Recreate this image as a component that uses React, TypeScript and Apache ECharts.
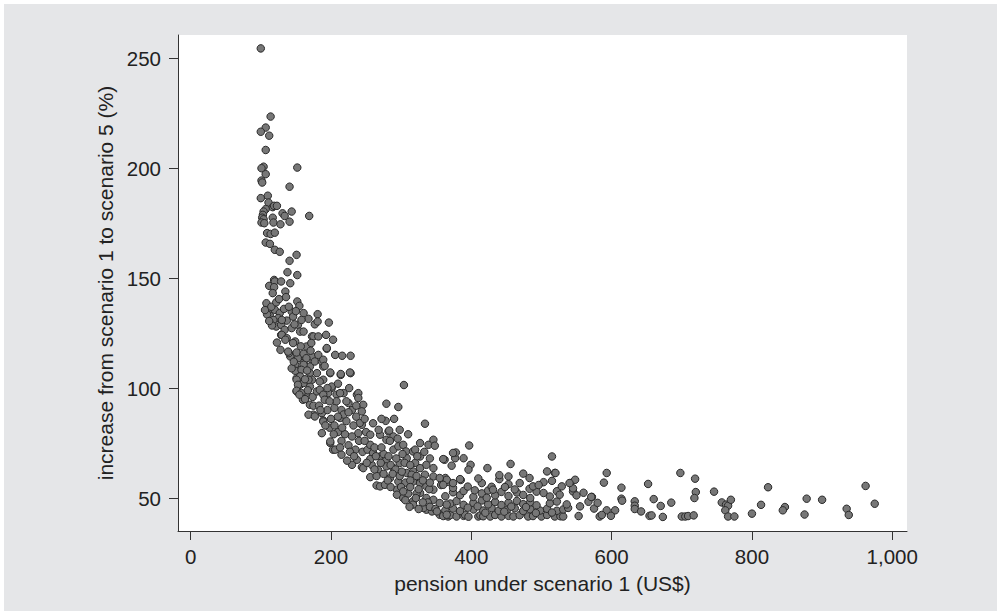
import React, { useEffect, useRef } from "react";
import * as echarts from "echarts";

const xTicks = [0, 200, 400, 600, 800, 1000];
const yTicks = [50, 100, 150, 200, 250];
const xTitle = "pension under scenario 1 (US$)";
const yTitle = "increase from scenario 1 to scenario 5 (%)";

// [pension under scenario 1 (US$), increase (%)]
const steepPart: [number, number][] = [
  [100, 254.5], [114, 223.5], [107, 218.5], [100, 216.6], [112, 214.8], [107, 208.3], [104, 200.7], [101, 200],
  [107, 197.3], [101, 194.4], [102, 193.5], [110, 187.5], [100, 186.4], [111, 184.4], [117, 182.3], [119, 182.9],
  [107, 181.4], [104, 180.3], [103, 178.8], [102, 177.5], [117, 177.5], [104, 176.8], [101, 175.3], [105, 175],
  [118, 175.3], [123, 182.9], [128, 174.5], [109, 170.5], [114, 170.1], [120, 170.7], [107, 166.2], [113, 165.6],
  [120, 162.9], [127, 162], [119, 149.2], [112, 146.5], [120, 148.5], [119, 145.9], [117, 143.2], [108, 138.6],
  [110, 134.8], [113, 132.9], [120, 135.6], [127, 134.1], [125, 131.8], [109, 133.5], [106, 135.5], [115, 137],
  [118, 131], [122, 128], [123, 120.7], [128, 117.4], [129, 128.8], [129, 124.2], [129, 148.5], [122, 139],
  [126, 140.5], [116, 128.5], [112, 130.5],
  [131, 179.5], [134, 178.3], [144, 180.3], [141, 175.7], [141, 191.6], [152, 200.3], [169, 178.3], [151, 160.6],
  [141, 157.9], [138, 152.7], [152, 151.4], [142, 147.7], [135, 143.9], [136, 141.4], [152, 139.4], [155, 137.4],
  [161, 134.1], [168, 131.5], [137, 130.7], [144, 134.8], [146, 132.5], [134, 126.5], [144, 127.3], [153, 128.8],
  [156, 125.7], [130, 124.2], [137, 122.7], [149, 121.2], [173, 123.5], [165, 118.9], [142, 114.4], [153, 113.6],
  [163, 113.6], [173, 112.9], [140, 115.9], [151, 116.2], [161, 111.4], [170, 109.8], [149, 110.6], [156, 108.3],
  [170, 106.8], [173, 103.8], [156, 101.5], [170, 100.7], [151, 104.5], [161, 102.3], [151, 98.5], [165, 97.7],
  [135, 122], [146, 120.5], [161, 125.7], [175, 123.5], [172, 120.5], [139, 116.6], [161, 115.6], [173, 114.4],
  [165, 113.6], [177, 112.1], [161, 110.6], [149, 107.9], [158, 108.3], [156, 105.3], [168, 103.8], [151, 103.8],
  [153, 101.5], [151, 98.8], [158, 97.7], [160, 94.7], [170, 92.4], [175, 92], [175, 87.9], [168, 87.9],
  [177, 87.1], [144, 109], [147, 112], [133, 136], [140, 137], [130, 131], [163, 104], [166, 108], [157, 119],
  [177, 129], [163, 95], [167, 99], [174, 96], [155, 97], [171, 117], [158, 131], [148, 129], [150, 135],
];

const bendPart: [number, number][] = [
  [181, 133.6], [181, 130.3], [197, 129.8], [193, 124.2], [203, 122], [182, 123.5], [194, 117.9], [206, 115.1],
  [216, 114.7], [228, 114.7], [228, 106.8], [214, 106], [199, 106.8], [189, 109.8], [180, 106.8], [189, 103.8],
  [201, 100], [218, 97.7], [237, 97], [239, 97.7], [180, 98.5], [184, 103], [184, 99.2], [196, 97.7],
  [208, 97], [187, 112.1], [182, 115.1], [194, 118.2], [189, 112.9], [191, 110.1], [199, 107.1], [214, 106.4],
  [227, 107.1], [189, 97], [201, 100.7], [213, 97.7], [239, 95.5], [191, 94.7], [225, 93.2], [246, 92.4],
  [244, 89.4], [187, 88.6], [189, 85.3], [213, 86.4], [244, 83.3], [187, 79.5], [189, 84.8], [241, 84.1],
  [239, 79.5], [199, 75], [203, 72], [237, 67.4], [230, 65.1], [244, 64.1], [199, 75.7], [206, 72],
  [215, 69.7], [183, 92], [195, 90], [205, 91], [215, 90], [230, 90], [200, 86], [222, 85],
  [232, 83], [198, 82], [210, 80], [220, 79], [230, 78], [215, 76], [225, 74], [235, 72],
  [245, 71], [240, 76], [218, 88], [208, 94], [195, 100], [226, 100], [210, 102], [198, 94],
  [185, 90], [192, 83], [248, 86], [227, 71], [205, 83], [216, 82], [236, 87], [222, 94], [250, 80],
  [256, 78.8], [270, 78.8], [282, 80.3], [289, 78], [279, 76.5], [279, 92.9], [296, 91.4], [278, 85.1],
  [283, 80.7], [304, 101.4], [334, 83.8], [252, 72], [260, 70.5], [270, 68.9], [279, 67.4], [289, 72],
  [296, 73.5], [303, 74.2], [307, 71.2], [317, 71.2], [327, 75], [339, 74.2], [346, 76.5], [258, 65.1],
  [267, 62.9], [279, 64.4], [289, 63.6], [298, 65.9], [308, 68.1], [327, 68.9], [308, 61.4], [317, 62.1],
  [327, 63.6], [336, 65.1], [346, 63.6], [334, 60.6], [346, 59.8], [317, 57.5], [327, 56.8], [336, 55.3],
  [346, 53.8], [296, 57.5], [327, 52.3], [336, 50], [346, 49.2], [336, 44.7], [256, 59.5], [265, 55.7],
  [270, 55.3], [277, 56], [294, 53.8], [294, 51.5], [303, 50], [317, 48.5], [317, 47], [332, 45.5],
  [344, 43.9], [246, 63.6], [256, 67.7], [256, 74.2], [348, 73.8], [315, 60.6], [262, 73], [275, 70],
  [285, 65], [292, 63], [305, 66], [320, 66], [265, 60], [275, 61], [284, 59], [298, 60],
  [306, 57], [285, 55], [300, 55], [310, 52], [322, 52], [340, 54], [312, 46], [325, 45],
  [338, 48], [268, 81], [272, 86], [298, 81], [310, 79], [260, 84], [290, 86], [320, 72], [264, 69],
  [281, 58], [288, 61], [301, 62], [313, 58], [322, 60], [331, 58], [341, 57], [303, 53], [313, 55],
  [325, 54], [331, 48], [341, 46], [321, 50], [306, 49], [349, 45], [251, 66], [262, 63], [271, 66],
  [282, 69], [293, 68], [302, 70], [313, 65], [323, 69], [333, 71], [341, 68], [272, 73], [284, 76],
  [295, 77], [248, 76], [233, 69], [223, 67], [213, 73], [204, 79], [210, 87], [225, 89], [236, 92],
];

const floorPart: [number, number][] = [
  [355, 42.4], [360, 41.8], [367, 41.6], [370, 42.2], [379, 41.6], [389, 41.9], [391, 42.4], [396, 41.5],
  [410, 41.6], [413, 42.1], [417, 41.7], [427, 41.6], [434, 42.3], [443, 41.6], [453, 41.9], [460, 41.6],
  [469, 42.2], [481, 41.6], [488, 41.8], [500, 41.6], [508, 42.3], [519, 41.6], [527, 41.7], [531, 41.6], [553, 41.8],
  [363, 44.4], [374, 45.2], [384, 44.1], [403, 44.8], [417, 44.3], [429, 45.4], [439, 44.2], [451, 44.7],
  [462, 45.3], [474, 44.1], [484, 44.9], [498, 44.3], [508, 45.1], [522, 44.2], [531, 44.8], [538, 45.5],
  [370, 47.5], [379, 48.6], [389, 46.9], [403, 47.8], [415, 48.9], [424, 47.1], [434, 48.2], [443, 46.8],
  [453, 47.9], [465, 48.7], [474, 47.2], [484, 48.1], [493, 46.7], [512, 47.6], [522, 48.4], [536, 47.1],
  [555, 46.2], [567, 48.3],
  [363, 50.8], [374, 52.6], [384, 51.3], [389, 53.2], [403, 50.5], [415, 52.1], [424, 53.4], [434, 51.2],
  [443, 52.8], [453, 50.9], [465, 52.5], [474, 51.4], [484, 50], [493, 52.9], [503, 52.3], [512, 50.7],
  [522, 53.1], [526, 51.5], [545, 53], [550, 51.2], [560, 52.4], [572, 50.5],
  [357, 55.9], [367, 57.3], [374, 54.6], [385, 58.2], [405, 53.5], [415, 56.8], [429, 55.1], [431, 53.8],
  [440, 58.6], [453, 56.3], [469, 56.8], [483, 54.2], [488, 55.3], [503, 57.2], [529, 55.3], [541, 56.8],
  [545, 54.4], [548, 58.3],
  [363, 59.1], [384, 58.6], [440, 60.4], [453, 59.8], [474, 61.1], [483, 59.1], [508, 62.1], [519, 61.4],
  [362, 67.4], [377, 68.1], [389, 68.1], [399, 65.1], [396, 62.9], [423, 63.6], [456, 65.5], [515, 68.9],
  [397, 73.9], [378, 70.7], [372, 64.7], [360, 67.7], [374, 70.5], [365, 58.3], [374, 56.8], [355, 59.1],
  [351, 43.9], [365, 42.4], [355, 47.7], [365, 47], [360, 56],
  [395, 45.6], [409, 46.2], [420, 43.3], [447, 43.8], [457, 46.1], [478, 45.9], [492, 43.2], [515, 43.4],
  [395, 55.2], [410, 58.9], [422, 50.1], [448, 55], [462, 53.9], [496, 55.9], [515, 57.8],
];

const tailPart: [number, number][] = [
  [593, 61.4], [589, 57], [614, 54.7], [614, 49.7], [615, 48.8], [593, 44.4], [605, 44.4], [599, 41.9],
  [583, 41.6], [586, 42.3], [652, 56.4], [633, 48.5], [633, 46.5], [633, 45], [642, 43.9], [654, 41.9],
  [657, 42.1], [660, 49.5], [670, 46.4], [673, 41.4], [685, 47.9], [698, 61.4], [700, 41.6], [705, 41.6],
  [709, 41.8], [717, 42.1], [719, 58.8], [720, 52.7], [718, 50], [746, 52.9], [757, 48], [763, 47],
  [766, 46.5], [770, 49.2], [762, 44.4], [766, 41.6], [775, 41.6], [800, 42.9], [813, 46.9], [823, 54.9],
  [847, 45.9], [844, 44.4], [878, 49.7], [875, 42.5], [900, 49.2], [935, 45.1], [938, 42.3], [962, 55.5],
  [975, 47.4], [571, 50.5], [540, 56.8], [520, 61.4], [575, 45.2], [580, 47.8],
];

const thousands = (v: number) => String(v).replace(/\B(?=(\d{3})+(?!\d))/g, ",");

export default function App() {
  const ref = useRef<HTMLDivElement>(null);
  useEffect(() => {
    if (!ref.current) return;
    const chart = echarts.init(ref.current, undefined, { renderer: "svg" });
    const font = "'Liberation Sans', Arial, Helvetica, sans-serif";
    const points = [...steepPart, ...bendPart, ...floorPart, ...tailPart];
    chart.setOption({
      animation: false,
      backgroundColor: "transparent",
      textStyle: { fontFamily: font },
      grid: {
        left: 174, top: 31, right: 90, bottom: 80,
        show: true, backgroundColor: "#ffffff", borderWidth: 0,
      },
      xAxis: {
        type: "value", min: -18, max: 1021,
        name: xTitle, nameLocation: "middle", nameGap: 42,
        nameTextStyle: { fontFamily: font, fontSize: 21, color: "#222" },
        axisLine: { show: true, onZero: false, lineStyle: { color: "#333", width: 1 } },
        axisTick: { show: true, length: 9, customValues: xTicks, lineStyle: { color: "#333" } },
        axisLabel: {
          customValues: xTicks, fontFamily: font, fontSize: 20.5, color: "#222", margin: 15,
          formatter: (v: number) => thousands(v),
        },
        splitLine: { show: false },
      },
      yAxis: {
        type: "value", min: 35, max: 260.6,
        name: yTitle, nameLocation: "middle", nameGap: 62, nameRotate: 90,
        nameTextStyle: { fontFamily: font, fontSize: 21, color: "#222" },
        axisLine: { show: true, onZero: false, lineStyle: { color: "#333", width: 1 } },
        axisTick: { show: true, length: 9, customValues: yTicks, lineStyle: { color: "#333" } },
        axisLabel: { customValues: yTicks, fontFamily: font, fontSize: 20.5, color: "#222", margin: 17 },
        splitLine: { show: false },
      },
      series: [
        {
          type: "scatter",
          data: points,
          symbol: "circle",
          symbolSize: 7.5,
          itemStyle: { color: "#777777", borderColor: "#2a2a2a", borderWidth: 1, opacity: 1 },
        },
      ],
    });
    return () => chart.dispose();
  }, []);
  return (
    <div style={{ position: "fixed", left: 0, top: 0, width: 1001, height: 615, background: "#ffffff" }}>
      <div
        ref={ref}
        style={{ position: "absolute", left: 4, top: 4, width: 993, height: 607, background: "#e5e6e8" }}
      />
    </div>
  );
}
